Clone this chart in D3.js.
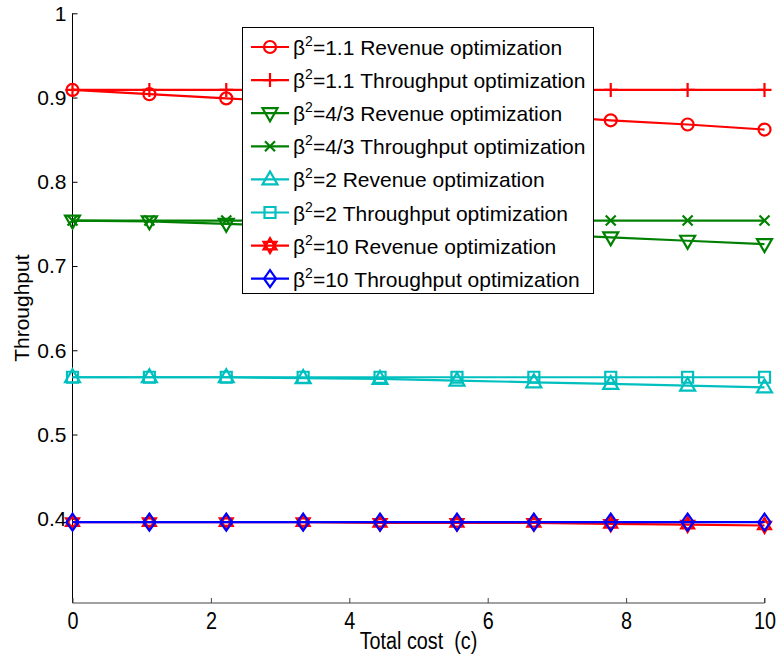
<!DOCTYPE html>
<html>
<head>
<meta charset="utf-8">
<script src="https://cdn.jsdelivr.net/npm/d3@7/dist/d3.min.js"></script>
<style>
  html, body { margin: 0; padding: 0; background: #fff; }
  svg { display: block; }
  text { font-family: "Liberation Sans", Arial, sans-serif; fill: #000; white-space: pre; }
</style>
</head>
<body>
<script>
// Total cost values on the x axis
const costs = [0, 1.111, 2.222, 3.333, 4.444, 5.556, 6.667, 7.778, 8.889, 10];

// Throughput per strategy and beta^2
const rev11  = [0.909, 0.904, 0.899, 0.894, 0.889, 0.884, 0.879, 0.873, 0.868, 0.862];
const thr11  = [0.909, 0.909, 0.909, 0.909, 0.909, 0.909, 0.909, 0.909, 0.909, 0.909];
const rev43  = [0.754, 0.753, 0.750, 0.747, 0.744, 0.741, 0.738, 0.734, 0.730, 0.726];
const thr43  = [0.754, 0.754, 0.754, 0.754, 0.754, 0.754, 0.754, 0.754, 0.754, 0.754];
const rev2   = [0.568, 0.568, 0.568, 0.567, 0.566, 0.564, 0.562, 0.560, 0.558, 0.556];
const thr2   = [0.568, 0.568, 0.568, 0.568, 0.568, 0.568, 0.568, 0.568, 0.568, 0.568];
const rev10  = [0.396, 0.396, 0.396, 0.396, 0.395, 0.395, 0.395, 0.394, 0.393, 0.392];
const thr10  = [0.396, 0.396, 0.396, 0.396, 0.396, 0.396, 0.396, 0.396, 0.396, 0.396];

const seriesNames = [
  ["1.1", "Revenue optimization"],
  ["1.1", "Throughput optimization"],
  ["4/3", "Revenue optimization"],
  ["4/3", "Throughput optimization"],
  ["2", "Revenue optimization"],
  ["2", "Throughput optimization"],
  ["10", "Revenue optimization"],
  ["10", "Throughput optimization"]
];
const seriesValues = [rev11, thr11, rev43, thr43, rev2, thr2, rev10, thr10];
const seriesColors = ["#ff0000", "#ff0000", "#008000", "#008000", "#00bfbf", "#00bfbf", "#ff0000", "#0000ff"];
const seriesMarkers = ["circle", "plus", "triDown", "cross", "triUp", "square", "hexagram", "diamond"];

const xTicks = [0, 2, 4, 6, 8, 10];
const yTicks = [0.4, 0.5, 0.6, 0.7, 0.8, 0.9, 1];

const W = 779, H = 655;
const svg = d3.select("body").append("svg").attr("width", W).attr("height", H);

const x = d3.scaleLinear().domain([0, 10]).range([72.5, 764.5]);
const y = d3.scaleLinear().domain([0.3, 1]).range([603, 13.3]);

// Marker outlines, centred at the origin
function markerPath(kind) {
  const p = d3.path();
  switch (kind) {
    case "circle": p.moveTo(6, 0); p.arc(0, 0, 6, 0, 2 * Math.PI); break;
    case "plus": p.moveTo(-7, 0); p.lineTo(7, 0); p.moveTo(0, -7); p.lineTo(0, 7); break;
    case "cross": p.moveTo(-5, -5); p.lineTo(5, 5); p.moveTo(-5, 5); p.lineTo(5, -5); break;
    case "triDown": p.moveTo(-7.5, -5); p.lineTo(7.5, -5); p.lineTo(0, 8); p.closePath(); break;
    case "triUp": p.moveTo(-7.5, 5); p.lineTo(7.5, 5); p.lineTo(0, -8); p.closePath(); break;
    case "square": p.rect(-5.5, -5.5, 11, 11); break;
    case "diamond": p.moveTo(0, -8.5); p.lineTo(6, 0); p.lineTo(0, 8.5); p.lineTo(-6, 0); p.closePath(); break;
    case "hexagram": {
      const R = 7.5;
      for (let k = 0; k < 2; k++) {
        for (let i = 0; i < 3; i++) {
          const a = -Math.PI / 2 + k * Math.PI / 3 + i * 2 * Math.PI / 3;
          const px = R * Math.cos(a), py = R * Math.sin(a);
          if (i === 0) p.moveTo(px, py); else p.lineTo(px, py);
        }
        p.closePath();
      }
      break;
    }
  }
  return p.toString();
}

// Axes: left and bottom only, ticks pointing inward
const yAxis = d3.axisRight(y).tickValues(yTicks).tickSize(5).tickFormat(d3.format("~g"));
const gy = svg.append("g").attr("transform", `translate(${x(0)},0)`).call(yAxis);
gy.select(".domain").attr("stroke", "#000").attr("d", `M0,${y(1)}H0V${y(0.3)}`);
gy.selectAll(".tick line").attr("stroke", "#000");
gy.selectAll(".tick text").attr("x", -6).attr("text-anchor", "end")
  .style("font-size", "21px").style("font-family", '"Liberation Sans", Arial, sans-serif');

const xAxis = d3.axisTop(x).tickValues(xTicks).tickSize(5).tickFormat(d3.format("d"));
const gx = svg.append("g").attr("transform", `translate(0,${y(0.3)})`).call(xAxis);
gx.select(".domain").attr("stroke", "#444").attr("d", `M${x(0)},0H${x(10)}V-5`);
gx.selectAll(".tick line").attr("stroke", "#444");
// condensed tick labels along the cost axis
gx.selectAll(".tick text").attr("y", null).attr("dy", null)
  .attr("transform", "translate(0,26) scale(0.86,1)")
  .style("font-size", "23px").style("font-family", '"Liberation Sans", Arial, sans-serif');

svg.append("text").attr("transform", `translate(${(x(0) + x(10)) / 2},649) scale(0.86,1)`)
  .attr("text-anchor", "middle").style("font-size", "23px")
  .text("Total cost  (c)");

svg.append("text").attr("transform", `translate(29,${y(0.65)}) rotate(-90)`).attr("text-anchor", "middle")
  .style("font-size", "21px").text("Throughput");

// Data lines and markers
const line = d3.line().x((d, i) => x(costs[i])).y(d => y(d));
seriesValues.forEach((vals, s) => {
  const g = svg.append("g");
  g.append("path").attr("d", line(vals)).attr("fill", "none")
    .attr("stroke", seriesColors[s]).attr("stroke-width", 2.2);
  g.selectAll("path.m").data(vals).join("path").attr("class", "m")
    .attr("transform", (d, i) => `translate(${x(costs[i])},${y(d)})`)
    .attr("d", markerPath(seriesMarkers[s]))
    .attr("fill", "none").attr("stroke", seriesColors[s]).attr("stroke-width", 2.2);
});

// Legend
const lgX = 242.5, lgY = 27.5, lgW = 351, lgH = 266, rowH = 33.1, row0 = 47;
const lg = svg.append("g");
lg.append("rect").attr("x", lgX).attr("y", lgY).attr("width", lgW).attr("height", lgH)
  .attr("fill", "#fff").attr("stroke", "#000").attr("stroke-width", 1);
seriesNames.forEach((nm, s) => {
  const cy = row0 + s * rowH;
  lg.append("line").attr("x1", 251).attr("x2", 289).attr("y1", cy).attr("y2", cy)
    .attr("stroke", seriesColors[s]).attr("stroke-width", 2.2);
  lg.append("path").attr("transform", `translate(270,${cy})`).attr("d", markerPath(seriesMarkers[s]))
    .attr("fill", "none").attr("stroke", seriesColors[s]).attr("stroke-width", 2.2);
  const t = lg.append("text").attr("x", 293).attr("y", cy + 8).style("font-size", "21px");
  t.append("tspan").text("β");
  t.append("tspan").attr("dy", -9).style("font-size", "14px").text("2");
  t.append("tspan").attr("dy", 9).text("=" + nm[0] + " " + nm[1]);
});
</script>
</body>
</html>
